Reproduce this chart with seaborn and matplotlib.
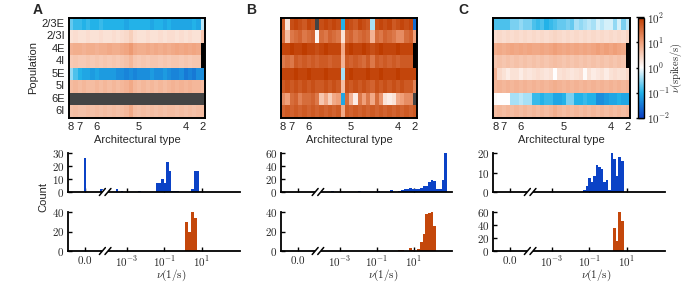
import numpy as np
import seaborn as sns
import matplotlib.pyplot as plt
import matplotlib.transforms as mtransforms
from matplotlib.colors import LinearSegmentedColormap
from matplotlib.ticker import FuncFormatter

sns.set_style('ticks')
plt.rcParams['font.family'] = ['Liberation Sans', 'DejaVu Sans']
plt.rcParams['mathtext.fontset'] = 'cm'

# ---------------- data ----------------
populations = ['2/3E', '2/3I', '4E', '4I', '5E', '5I', '6E', '6I']
arch_types = ['8', '7', '6', '5', '4', '2']
areas_per_type = [1, 3, 5, 15, 7, 1]

S = -np.inf   # silent population (rate 0)
N = np.nan    # population does not exist

# log10 of the rates (spikes/s); rows = populations, columns = 32 areas
rates_A = np.array([
    [-0.7, -0.9, -0.9, -1.0, -0.9, -1.0, -1.0, -0.9, -1.0, -1.0, -1.0, -1.0, -1.0, -1.1, -1.0, -1.0,
     -1.0, -1.0, -1.0, -1.1, -1.0, -1.0, -1.1, -1.0, -1.1, -1.1, -1.1, -1.1, -1.1, -1.0, -1.1, -0.3],
    [0.3, 0.35, 0.3, 0.3, 0.35, 0.3, 0.3, 0.35, 0.3, 0.3, 0.35, 0.3, 0.35, 0.4, 0.5, 0.35,
     0.3, 0.3, 0.35, 0.3, 0.3, 0.35, 0.3, 0.35, 0.35, 0.3, 0.35, 0.3, 0.35, 0.3, 0.3, 0.6],
    [0.8, 0.85, 0.85, 0.8, 0.85, 0.85, 0.8, 0.85, 0.85, 0.9, 0.85, 0.85, 0.9, 0.95, 1.05, 0.9,
     0.85, 0.85, 0.9, 0.85, 0.9, 0.85, 0.9, 0.85, 0.9, 0.95, 0.9, 0.95, 0.9, 0.95, 0.9, N],
    [0.55, 0.6, 0.55, 0.55, 0.6, 0.55, 0.6, 0.55, 0.6, 0.55, 0.6, 0.55, 0.6, 0.65, 0.75, 0.6,
     0.55, 0.6, 0.55, 0.6, 0.6, 0.55, 0.6, 0.55, 0.6, 0.6, 0.55, 0.6, 0.55, 0.6, 0.6, N],
    [-0.5, -0.8, -1.0, -1.1, -1.1, -1.2, -1.1, -1.2, -1.2, -1.2, -1.2, -1.3, -1.3, -1.4, -1.3, -1.4,
     -1.3, -1.3, -1.3, -1.2, -1.3, -1.3, -1.2, -1.3, -1.4, -1.4, -1.3, -1.5, -1.4, -1.5, -1.3, -1.3],
    [0.7, 0.75, 0.7, 0.75, 0.7, 0.7, 0.75, 0.7, 0.75, 0.7, 0.75, 0.7, 0.75, 0.8, 0.9, 0.75,
     0.7, 0.75, 0.7, 0.75, 0.7, 0.75, 0.7, 0.75, 0.8, 0.75, 0.8, 0.75, 0.8, 0.75, 0.75, 0.7],
    [S, S, S, S, S, S, S, S, S, S, S, S, S, S, S, S,
     S, S, S, S, S, S, S, S, S, S, S, S, S, S, S, S],
    [0.65, 0.7, 0.65, 0.65, 0.7, 0.65, 0.7, 0.65, 0.7, 0.65, 0.7, 0.65, 0.7, 0.75, 0.9, 0.7,
     0.65, 0.7, 0.65, 0.7, 0.65, 0.7, 0.65, 0.7, 0.7, 0.65, 0.7, 0.65, 0.7, 0.65, 0.7, 0.7],
])

rates_B = np.array([
    [1.7, 0.3, 1.8, 1.9, 1.8, 1.7, 1.9, 1.8, S, 1.8, 1.9, 1.8, 1.9, 1.8, -1.0, 1.9,
     1.8, 1.7, 1.9, 1.8, 1.7, -0.4, 1.8, 1.9, 1.8, 1.9, 1.7, 1.8, 1.9, 1.8, 1.9, -1.6],
    [1.5, 0.7, 1.4, 1.5, 1.6, 1.4, 1.5, 1.6, 0.1, 1.5, 1.4, 1.6, 1.5, 1.4, 0.3, 1.5,
     1.6, 1.4, 1.5, 1.6, 1.5, 0.8, 1.5, 1.4, 1.6, 1.5, 1.4, 1.2, 1.2, 1.5, 1.6, 1.0],
    [1.9, 1.9, 2.0, 1.9, 1.9, 2.0, 1.9, 1.9, 1.8, 1.9, 2.0, 1.9, 1.9, 1.9, 0.9, 1.9,
     2.0, 1.9, 1.9, 2.0, 1.9, 1.8, 1.9, 2.0, 1.9, 1.9, 1.9, 2.0, 1.9, 1.9, 1.9, N],
    [1.4, 1.5, 1.4, 1.7, 1.6, 1.7, 1.6, 1.7, 1.6, 1.7, 1.7, 1.6, 1.7, 1.7, 0.8, 1.7,
     1.6, 1.7, 1.6, 1.5, 1.7, 1.4, 1.7, 1.6, 1.7, 1.6, 1.7, 1.6, 1.7, 1.7, 1.7, N],
    [1.9, 1.9, 1.9, 2.0, 1.9, 1.9, 2.0, 1.9, 1.9, 1.9, 2.0, 1.9, 1.9, 1.9, -0.4, 1.9,
     2.0, 1.9, 1.9, 1.9, 2.0, 1.9, 1.9, 2.0, 1.9, 1.9, 1.9, 2.0, 1.9, 1.9, 1.9, 1.9],
    [1.7, 1.8, 1.7, 1.8, 1.7, 1.8, 1.7, 1.8, 1.7, 1.7, 1.8, 1.7, 1.8, 1.7, 0.7, 1.8,
     1.7, 1.8, 1.7, 1.8, 1.7, 1.6, 1.8, 1.7, 1.8, 1.7, 1.8, 1.7, 1.8, 1.7, 1.7, 1.3],
    [1.2, 1.0, 1.5, 1.6, 1.3, 1.5, 1.5, 1.6, 1.4, 0.6, 0.9, 0.5, 0.9, 1.0, -1.1, 1.5,
     0.8, 0.2, 1.4, 1.0, 1.4, 0.9, 1.5, 1.1, 0.3, 0.2, 0.3, 0.9, 1.0, 1.2, 1.2, S],
    [1.6, 1.7, 1.6, 1.7, 1.6, 1.7, 1.6, 1.7, 1.6, 1.7, 1.6, 1.7, 1.6, 1.7, 0.9, 1.7,
     1.6, 1.7, 1.6, 1.7, 1.6, 1.7, 1.6, 1.7, 1.6, 1.7, 1.6, 1.7, 1.6, 1.7, 1.6, 1.7],
])

rates_C = np.array([
    [-0.8, -0.8, -0.8, -0.8, -0.6, -0.6, -0.5, -0.6, -0.6, -0.8, -0.9, -0.8, -1.0, -0.9, -0.8, -0.7,
     -0.7, -0.6, -0.7, -0.4, -0.5, -0.4, -0.3, -0.4, -0.2, -0.3, -0.2, -0.2, -0.5, -0.2, -0.6, -0.3],
    [0.35, 0.4, 0.35, 0.4, 0.35, 0.4, 0.35, 0.4, 0.35, 0.4, 0.35, 0.4, 0.35, 0.4, 0.45, 0.4,
     0.35, 0.4, 0.35, 0.4, 0.35, 0.4, 0.35, 0.4, 0.35, 0.4, 0.35, 0.4, 0.35, 0.4, 0.35, 0.45],
    [0.85, 0.9, 0.85, 0.9, 0.95, 0.9, 0.95, 0.9, 0.95, 0.9, 0.9, 0.95, 0.9, 0.95, 1.0, 0.95,
     0.9, 0.95, 0.9, 0.95, 0.9, 0.95, 0.9, 0.95, 1.0, 0.95, 1.0, 0.95, 1.0, 0.95, 0.9, N],
    [0.6, 0.65, 0.6, 0.65, 0.6, 0.65, 0.6, 0.65, 0.6, 0.65, 0.6, 0.65, 0.6, 0.65, 0.7, 0.65,
     0.6, 0.65, 0.6, 0.65, 0.6, 0.65, 0.6, 0.65, 0.6, 0.65, 0.6, 0.65, 0.6, 0.65, 0.6, N],
    [0.8, 0.4, 0.3, 0.2, 0.3, 0.3, 0.2, 0.3, 0.25, 0.3, 0.35, 0.3, 0.25, 0.3, 0.0, 0.3,
     0.35, 0.3, 0.25, 0.3, 0.35, 0.05, 0.3, 0.2, 0.25, 0.3, 0.2, 0.3, 0.35, 0.3, 0.3, 0.4],
    [0.75, 0.8, 0.75, 0.8, 0.75, 0.8, 0.75, 0.8, 0.75, 0.8, 0.75, 0.8, 0.75, 0.8, 0.85, 0.8,
     0.75, 0.8, 0.75, 0.8, 0.75, 0.8, 0.75, 0.8, 0.75, 0.8, 0.75, 0.8, 0.75, 0.8, 0.75, 0.8],
    [0.05, 0.0, 0.0, 0.0, -0.4, -0.4, -0.3, -0.4, -0.4, -0.9, -0.9, -1.0, -0.9, -0.9, -1.1, -1.1,
     -1.0, -0.6, -0.6, -1.0, -1.0, -0.9, -1.0, -1.0, -1.3, -1.3, -1.2, -1.1, -1.1, -1.0, -1.1, -1.1],
    [0.7, 0.75, 0.7, 0.75, 0.7, 0.75, 0.7, 0.75, 0.7, 0.75, 0.7, 0.75, 0.7, 0.75, 0.85, 0.75,
     0.7, 0.75, 0.7, 0.75, 0.7, 0.75, 0.7, 0.75, 0.7, 0.75, 0.7, 0.75, 0.7, 0.75, 0.7, 0.75],
])

# histograms: left bin edge in log10(rate) and count; zero = number of silent populations
A_exc_left = [-4.42, -3.61, -3.34, -2.395, -1.45, -1.315, -1.18, -1.045, -0.91, -0.775,
              -0.64, -0.505, -0.37, 0.44, 0.575, 0.71]
A_exc_count = [2, 2, 1, 1, 7, 7, 10, 7, 23, 16, 1, 1, 1, 2, 16, 16]
A_exc_zero = 26
A_inh_left = [0.11, 0.27, 0.43, 0.59, 0.75]
A_inh_count = [30, 20, 40, 34, 1]
A_inh_zero = 0

B_exc_left = [-3.46, -2.01, -0.995, -0.27, 0.165, 0.31, 0.455, 0.60, 0.745, 0.89, 1.035,
              1.18, 1.325, 1.47, 1.615, 1.76, 1.905, 2.05, 2.195, 2.34, 2.485, 2.63]
B_exc_count = [1, 1, 1, 3, 2, 3, 4, 4, 6, 4, 4, 5, 6, 10, 10, 16, 18, 17, 5, 5, 18, 60]
B_exc_zero = 0
B_inh_left = [0.165, 0.31, 0.745, 0.89, 1.18, 1.325, 1.47, 1.615, 1.76, 1.905, 2.05]
B_inh_count = [1, 1, 3, 1, 2, 9, 17, 38, 39, 40, 26]
B_inh_zero = 0

C_exc_left = [-1.33, -1.195, -1.06, -0.925, -0.79, -0.655, -0.52, -0.385, -0.25, -0.115,
              0.02, 0.155, 0.29, 0.425, 0.56, 0.695]
C_exc_count = [1, 3, 7, 5, 8, 14, 13, 12, 5, 6, 1, 20, 17, 8, 18, 16]
C_exc_zero = 0
C_inh_left = [0.29, 0.425, 0.56, 0.695]
C_inh_count = [35, 15, 60, 46]
C_inh_zero = 0

bin_widths = [(0.135, 0.16), (0.145, 0.145), (0.135, 0.135)]
exc_yticks = [[0, 10, 20, 30], [0, 20, 40, 60], [0, 10, 20]]
inh_yticks = [[0, 20, 40], [0, 20, 40], [0, 20, 40, 60]]

zero_pos = -5.25     # where rate 0 sits on the broken log axis
break_pos = (-4.32, -4.02)

# ---------------- layout ----------------
W, H = 685, 283
fig = plt.figure(figsize=(W / 100, H / 100), dpi=100)


def box(x0, y0, x1, y1):
    return [x0 / W, 1 - y1 / H, (x1 - x0) / W, (y1 - y0) / H]


heat_boxes = [(69, 17.5, 205, 117.5), (281, 17.5, 417, 117.5), (493, 17.5, 630, 117.5)]
hist_x = [(68, 240), (281, 452), (493, 665)]
heat_axes = [fig.add_axes(box(*b)) for b in heat_boxes]
cbar_ax = fig.add_axes(box(638, 17.5, 644, 117.5))
exc_axes = [fig.add_axes(box(x0, 153, x1, 192)) for x0, x1 in hist_x]
inh_axes = [fig.add_axes(box(x0, 212, x1, 251)) for x0, x1 in hist_x]

cmap = LinearSegmentedColormap.from_list(
    'rates', ['#0b3fc2', '#22b2e8', '#ffffff', '#f0a07a', '#be3c00'])
cmap.set_under('#444444')
cmap.set_bad('black')

blue = '#0b42c6'
orange = '#c4470b'

# ---------------- heatmaps ----------------
bounds = np.cumsum(areas_per_type)
centers = bounds - np.array(areas_per_type) / 2
for k, (ax, rates) in enumerate(zip(heat_axes, [rates_A, rates_B, rates_C])):
    # silent populations go below the colour range -> "under" colour
    shown = np.where(np.isneginf(rates), -99.0, rates)
    sns.heatmap(shown, ax=ax, cmap=cmap, vmin=-2, vmax=2,
                cbar=(k == 2), cbar_ax=cbar_ax if k == 2 else None,
                xticklabels=False, yticklabels=populations if k == 0 else False)
    for sp in ax.spines.values():
        sp.set_visible(True)
        sp.set_linewidth(1.4)
        sp.set_color('black')
    ax.set_xticks(centers)
    ax.set_xticklabels(arch_types, rotation=0)
    ax.set_xticks(bounds[:-1], minor=True)
    ax.tick_params(axis='x', which='major', length=0, pad=3, labelsize=8)
    ax.tick_params(axis='x', which='minor', direction='in', length=3.5, width=1,
                   top=True, bottom=True, color='black')
    ax.tick_params(axis='y', length=0, labelsize=8, pad=3)
    plt.setp(ax.get_yticklabels(), rotation=0)
    ax.set_xlabel('Architectural type', fontsize=8)
    ax.xaxis.set_label_coords(0.5, -0.17)

heat_axes[0].set_ylabel('Population', fontsize=8)
heat_axes[0].yaxis.set_label_coords(-0.23, 0.5)

cbar = heat_axes[2].collections[0].colorbar
cbar.set_ticks([-2, -1, 0, 1, 2])
cbar.set_ticklabels([r'$10^{-2}$', r'$10^{-1}$', r'$10^{0}$', r'$10^{1}$', r'$10^{2}$'])
cbar.ax.tick_params(direction='in', length=6, width=1, labelsize=8, pad=2.5, color='black')
cbar.outline.set_visible(True)
cbar.outline.set_linewidth(1)
cbar.outline.set_edgecolor('black')
cbar.set_label(r'$\nu(\mathrm{spikes/s})$', fontsize=7.5)
cbar.ax.yaxis.set_label_coords(5.1, 0.5)

# ---------------- histograms ----------------
hist_data = [
    ((A_exc_left, A_exc_count, A_exc_zero), (A_inh_left, A_inh_count, A_inh_zero)),
    ((B_exc_left, B_exc_count, B_exc_zero), (B_inh_left, B_inh_count, B_inh_zero)),
    ((C_exc_left, C_exc_count, C_exc_zero), (C_inh_left, C_inh_count, C_inh_zero)),
]


def draw_break(ax):
    trans = mtransforms.blended_transform_factory(ax.transData, ax.transAxes)
    ax.plot(break_pos, [0, 0], color='white', lw=3, transform=trans,
            clip_on=False, zorder=5, solid_capstyle='butt')
    for xb in break_pos:
        ax.plot([xb - 0.16, xb + 0.16], [-0.09, 0.09], color='black', lw=1.1,
                transform=trans, clip_on=False, zorder=6)


int_fmt = FuncFormatter(lambda v, p: r'$%d$' % v)

for k in range(3):
    for j, (ax, color, yt) in enumerate([(exc_axes[k], blue, exc_yticks[k]),
                                          (inh_axes[k], orange, inh_yticks[k])]):
        lefts, counts, zero = hist_data[k][j]
        w = bin_widths[k][j]
        mids = np.array(lefts) + w / 2
        sns.histplot(x=mids, weights=counts, binwidth=w,
                     binrange=(min(lefts), max(lefts) + w),
                     color=color, alpha=1, linewidth=0, ax=ax)
        if zero:
            ax.bar(zero_pos, zero, width=w, color=color, linewidth=0)
        sns.despine(ax=ax)
        for sp in ('left', 'bottom'):
            ax.spines[sp].set_linewidth(1.3)
            ax.spines[sp].set_color('black')
        ax.set_xlim(-6.16, 3.05)
        ax.set_ylim(0, yt[-1])
        ax.set_yticks(yt)
        ax.yaxis.set_major_formatter(int_fmt)
        ax.set_xticks([zero_pos, -3, -1, 1])
        if j == 1:
            ax.set_xticklabels([r'$0.0$', r'$10^{-3}$', r'$10^{-1}$', r'$10^{1}$'])
            ax.set_xlabel(r'$\nu(1/\mathrm{s})$', fontsize=8)
            ax.xaxis.set_label_coords(0.6, -0.44)
        else:
            ax.set_xticklabels([])
            ax.set_xlabel('')
        ax.set_ylabel('')
        ax.tick_params(direction='in', length=3, width=1, labelsize=8, pad=2.5,
                       color='black')
        draw_break(ax)

fig.text(43 / W, 1 - 197 / H, 'Count', rotation=90, ha='center', va='center', fontsize=8)

for label, x in zip(['A', 'B', 'C'], [38, 251, 463]):
    fig.text(x / W, 1 - 10 / H, label, ha='center', va='center',
             fontsize=10, fontweight='bold')

fig.savefig('out.png', dpi=100)
